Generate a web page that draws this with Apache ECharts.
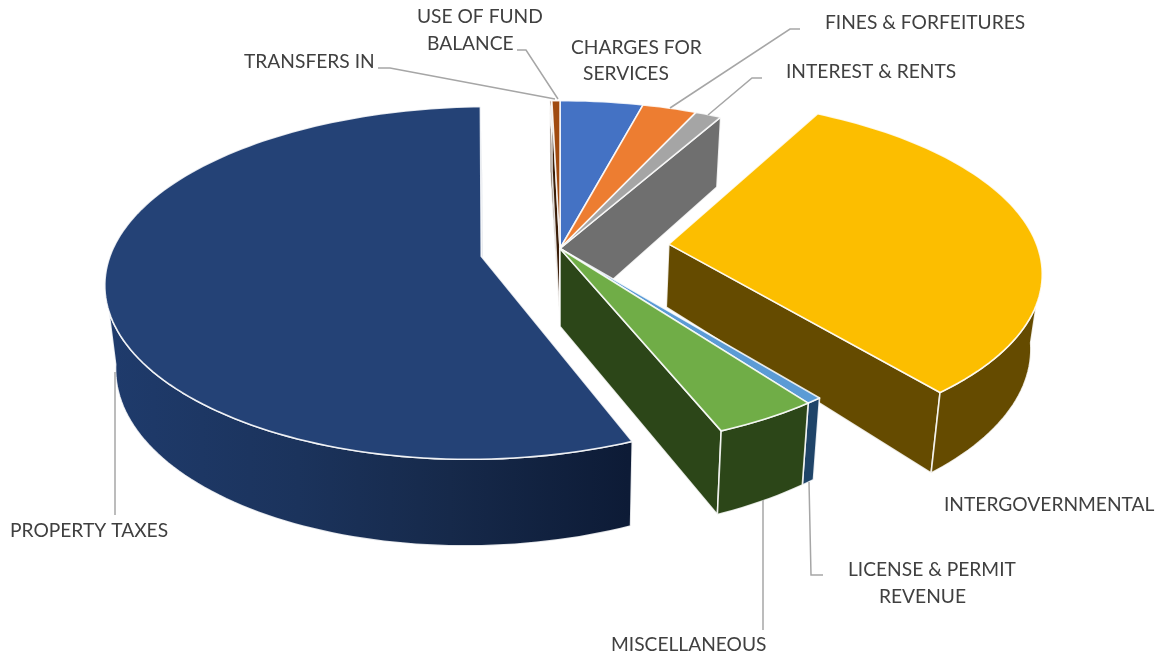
<!DOCTYPE html>
<html>
<head>
<meta charset="utf-8">
<title>General fund revenue by source</title>
<script src="https://cdn.jsdelivr.net/npm/echarts@6/dist/echarts.min.js"></script>
<style>html,body{margin:0;padding:0;background:#fff}#chart{width:1164px;height:658px}</style>
</head>
<body>
<div id="chart"></div>
<script>
// Revenue sources in chart order, clockwise from twelve o'clock.
const categories = ['CHARGES FOR SERVICES', 'FINES & FORFEITURES', 'INTEREST & RENTS', 'INTERGOVERNMENTAL',
  'LICENSE & PERMIT REVENUE', 'MISCELLANEOUS', 'PROPERTY TAXES', 'TRANSFERS IN', 'USE OF FUND BALANCE'];
// Share of total revenue, in percent.
const shares = [4.1, 2.7, 1.3, 31.1, 0.6, 4.0, 55.8, 0.1, 0.4];
// How far each slice is pulled out of the pie, as a fraction of the radius.
const explosion = [0, 0, 0, 0.297, 0, 0, 0.217, 0, 0];
const topColors = ['#4472c4', '#ed7d31', '#a5a5a5', '#fcbe00', '#5b9bd5', '#70ad47', '#244276', '#7a3a10', '#a04a10'];
const wallColors = ['#2b4a80', '#96501f', '#6f6f6f', '#654b00', '#1f4468', '#2c4618', '#1b335c', '#3a1d08', '#3a1d08'];
// Painting order, farthest slice first.
const paintOrder = [0, 1, 2, 7, 8, 3, 6, 4, 5];

// Projection of the pie plane onto the page.
const CENTER_X = 560, CENTER_Y = 248.5, RADIUS_X = 369, RADIUS_Y = 170;
const PERSPECTIVE_X = 0.135, PERSPECTIVE_Y = 0.15;
const VANISH_X = 560, CONVERGE = 0.0235;
const ARC_STEP = 1.5, WALL_FROM = 98, WALL_TO = 262;
const EDGE = 'rgba(255,255,255,0.85)';

function project(px, py) {
  return [
    CENTER_X + RADIUS_X * px / (1 - PERSPECTIVE_X * py),
    CENTER_Y + RADIUS_Y * py / (1 - PERSPECTIVE_Y * py)
  ];
}
function dropped(px, py, depth) {
  const p = project(px, py);
  const d = depth !== undefined ? depth : 78 - 3.4 * px + 7.5 * py;
  return [p[0] - (p[0] - VANISH_X) * CONVERGE, p[1] + d];
}
function signedArea(pts) {
  let a = 0;
  pts.forEach((p, i) => { const q = pts[(i + 1) % pts.length]; a += p[0] * q[1] - q[0] * p[1]; });
  return a / 2;
}
const total = shares.reduce((a, b) => a + b, 0);
const startAngles = shares.map((_, i) => shares.slice(0, i).reduce((a, b) => a + b, 0) / total * 360);

function sliceGeometry(i) {
  const from = startAngles[i], to = from + shares[i] / total * 360;
  const mid = (from + to) / 2 * Math.PI / 180;
  const ox = explosion[i] * Math.sin(mid), oy = -explosion[i] * Math.cos(mid);
  const rim = a => { const r = a * Math.PI / 180; return [ox + Math.sin(r), oy - Math.cos(r)]; };
  const angles = [];
  for (let a = from; a < to; a += ARC_STEP) angles.push(a);
  angles.push(to);
  return { from, to, ox, oy, rim, angles };
}

function sliceElements(i, rank) {
  const g = sliceGeometry(i);
  const children = [];
  const polygon = (points, fill, z2) => children.push({
    type: 'polygon', z2, shape: { points },
    style: { fill, stroke: EDGE, lineWidth: 1.6, lineJoin: 'round' }
  });
  // Exploded Intergovernmental slice: its inner corner sits shallower on the page.
  const apexDepth = i === 3 ? 63 : undefined;
  const apexTop = project(g.ox, g.oy), apexBottom = dropped(g.ox, g.oy, apexDepth);
  const radial = a => {
    const r = g.rim(a);
    return [apexTop, project(r[0], r[1]), dropped(r[0], r[1]), apexBottom];
  };
  const startWall = radial(g.from), endWall = radial(g.to);
  if (signedArea(startWall) < 0) polygon(startWall, wallColors[i], rank * 4);
  if (signedArea(endWall) > 0) polygon(endWall, wallColors[i], rank * 4 + 1);

  const wallAngles = [];
  const lo = Math.max(g.from, WALL_FROM), hi = Math.min(g.to, WALL_TO);
  if (lo < hi) {
    for (let a = lo; a < hi; a += ARC_STEP) wallAngles.push(a);
    wallAngles.push(hi);
    const upper = wallAngles.map(a => { const r = g.rim(a); return project(r[0], r[1]); });
    const lower = wallAngles.map(a => { const r = g.rim(a); return dropped(r[0], r[1]); }).reverse();
    let fill = wallColors[i];
    if (i === 6) {
      fill = new echarts.graphic.LinearGradient(105, 0, 628, 0, [
        { offset: 0, color: '#1f3b6c' }, { offset: 0.37, color: '#1b335c' },
        { offset: 0.66, color: '#16294a' }, { offset: 1, color: '#0d1b36' }
      ], true);
    }
    polygon(upper.concat(lower), fill, rank * 4 + 2);
  }
  const top = [apexTop].concat(g.angles.map(a => { const r = g.rim(a); return project(r[0], r[1]); }));
  polygon(top, topColors[i], rank * 4 + 3);
  return { type: 'group', children };
}

// Label lines and their leader lines, placed by hand around the pie.
const labelLines = [
  { text: 'USE OF FUND', x: 417, y: 17 }, { text: 'BALANCE', x: 427, y: 44 },
  { text: 'TRANSFERS IN', x: 244, y: 62 },
  { text: 'CHARGES FOR', x: 571, y: 48 }, { text: 'SERVICES', x: 583, y: 74 },
  { text: 'FINES & FORFEITURES', x: 825, y: 23 },
  { text: 'INTEREST & RENTS', x: 786, y: 72 },
  { text: 'INTERGOVERNMENTAL', x: 944, y: 505 },
  { text: 'LICENSE & PERMIT', x: 848, y: 570 }, { text: 'REVENUE', x: 879, y: 597 },
  { text: 'MISCELLANEOUS', x: 611, y: 645 },
  { text: 'PROPERTY TAXES', x: 10, y: 531 }
];
const leaders = [
  [[378, 68], [390, 68], [555, 99]],
  [[517, 50], [526, 50], [558, 99]],
  [[800, 29], [790, 29], [670, 108]],
  [[762, 78], [752, 78], [708, 115]],
  [[763, 500], [763, 630]],
  [[809, 482], [811, 575], [823, 575]],
  [[115, 372], [115, 515]]
];

const chart = echarts.init(document.getElementById('chart'), null, { renderer: 'canvas' });
chart.setOption({
  animation: false,
  backgroundColor: '#ffffff',
  series: [
    {
      type: 'custom',
      coordinateSystem: 'none',
      silent: true,
      data: categories.map((name, i) => ({ name, value: [i, shares[i]] })),
      renderItem: (params, api) => {
        const i = api.value(0);
        return sliceElements(i, paintOrder.indexOf(i));
      }
    },
    {
      type: 'custom',
      coordinateSystem: 'none',
      silent: true,
      z: 5,
      data: [0],
      renderItem: () => ({
        type: 'group',
        children: leaders.map(points => ({
          type: 'polyline', shape: { points },
          style: { fill: null, stroke: '#a6a6a6', lineWidth: 1.5 }
        })).concat(labelLines.map(l => ({
          type: 'text',
          style: { x: l.x, y: l.y, text: l.text, fill: '#404040', font: '19.2px Lato', textAlign: 'left', textVerticalAlign: 'middle' }
        })))
      })
    }
  ]
});
</script>
</body>
</html>
